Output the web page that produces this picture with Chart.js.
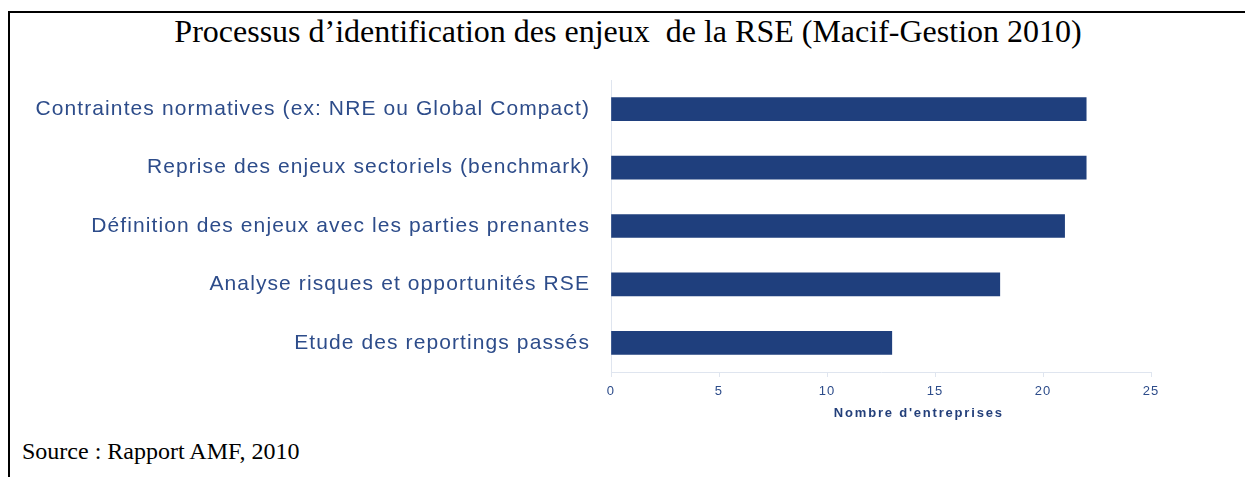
<!DOCTYPE html>
<html><head><meta charset="utf-8">
<script src="https://cdn.jsdelivr.net/npm/chart.js@4"></script>
<style>
html,body{margin:0;padding:0;background:#fff;}
#wrap{position:relative;width:1245px;height:477px;overflow:hidden;}
#frame{position:absolute;left:8px;top:11px;width:1300px;height:500px;border-left:2px solid #000;border-top:2px solid #000;}
#title{position:absolute;left:0;width:1256px;top:13px;text-align:center;font-family:"Liberation Serif";font-size:32px;color:#000;white-space:pre;}
#source{position:absolute;left:22px;top:438px;font-family:"Liberation Serif";font-size:24px;color:#000;white-space:pre;}
canvas{position:absolute;left:0;top:0;}
</style></head>
<body><div id="wrap">
<div id="frame"></div>
<div id="title">Processus d’identification des enjeux  de la RSE (Macif-Gestion 2010)</div>
<div id="source">Source : Rapport AMF, 2010</div>
<canvas id="c" width="1245" height="477"></canvas>
</div>
<script>
const categories = [
  "Contraintes normatives (ex: NRE ou Global Compact)",
  "Reprise des enjeux sectoriels (benchmark)",
  "Définition des enjeux avec les parties prenantes",
  "Analyse risques et opportunités RSE",
  "Etude des reportings passés"
];
const values = [22, 22, 21, 18, 13];
const xTicks = [0, 5, 10, 15, 20, 25];
const axisTitle = "Nombre d'entreprises";

const txt = '#2d4c8a';
const spacing = {
  id: 'spacing',
  beforeDraw(chart) { chart.ctx.letterSpacing = '1.1px'; },
  afterDraw(chart) {
    const ctx = chart.ctx, x = chart.scales.x;
    ctx.save();
    ctx.letterSpacing = '1.8px';
    ctx.font = 'bold 13px "Liberation Sans"';
    ctx.fillStyle = '#233f7a';
    ctx.textAlign = 'center';
    ctx.textBaseline = 'middle';
    ctx.fillText(axisTitle, x.getPixelForValue(14.25), x.top + 41);
    ctx.restore();
  }
};
new Chart(document.getElementById('c'), {
  type: 'bar',
  data: { labels: categories, datasets: [{ data: values, backgroundColor: '#1f3f7d', borderWidth: 0, barThickness: 23 }] },
  options: {
    indexAxis: 'y', responsive: false, animation: false,
    layout: { padding: { left: 0, right: 94, top: 80, bottom: 45 } },
    plugins: { legend: { display: false }, tooltip: { enabled: false } },
    scales: {
      y: {
        afterFit: s => { s.width = 611; },
        grid: { display: false },
        border: { display: true, color: '#dfe5ef', width: 1 },
        ticks: { color: txt, padding: 13, font: { family: 'Liberation Sans', size: 21 } }
      },
      x: {
        min: 0, max: 25,
        afterFit: s => { s.height = 60; },
        afterBuildTicks: s => { s.ticks = xTicks.map(v => ({ value: v })); },
        grid: { drawOnChartArea: false, drawTicks: true, tickLength: 5, color: '#dfe5ef' },
        border: { display: true, color: '#dfe5ef', width: 1 },
        ticks: { color: txt, padding: 7, font: { family: 'Liberation Sans', size: 13 } },
        title: { display: false }
      }
    }
  },
  plugins: [spacing]
});
</script>
</body></html>
